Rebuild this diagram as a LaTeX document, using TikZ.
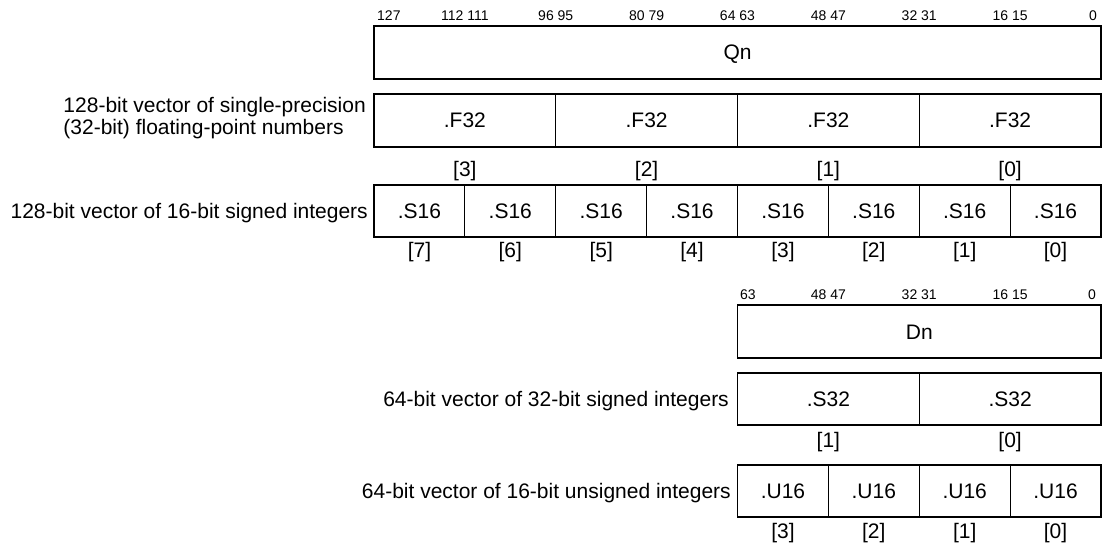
\documentclass[tikz,border=0pt]{standalone}
\usepackage{fontspec}
\setmainfont{Liberation Sans}
\usetikzlibrary{calc}
\begin{document}
\begin{tikzpicture}[x=1pt,y=-1pt,
  cell/.style={draw, line width=1.1pt, minimum height=52pt, inner sep=0pt, outer sep=0pt,
    font=\fontsize{21}{24}\selectfont, text height=15pt, text depth=0pt},
  frame/.style={line width=1.8pt},
  bits/.style={font=\fontsize{14}{16}\selectfont, inner sep=0pt, text height=10pt, text depth=0pt},
  idx/.style={font=\fontsize{21}{24}\selectfont, inner sep=0pt, text height=15pt, text depth=0pt},
  desc/.style={font=\fontsize{21}{24}\selectfont, inner sep=0pt, text height=15pt, text depth=0pt, anchor=east},
]
\useasboundingbox (0,0) rectangle (1103,545);

% ---------- Qn ----------
\node[bits, anchor=west] (b127) at (377,16) {127};
\foreach \t [count=\k] in {112 111, 96 95, 80 79, 64 63, 48 47, 32 31, 16 15}
  \node[bits] (qb\k) at ({374+\k*90.875},16) {\t};
\node[bits, anchor=east] (b0) at (1097,16) {0};
\node[cell, minimum width=727pt, minimum height=53pt] (qn) at (737.5,52.5) {Qn};
\draw[frame] (qn.north west) rectangle (qn.south east);

% ---------- F32 ----------
\node[desc, anchor=north east, align=left, text height=, font=\fontsize{21}{22}\selectfont] (lf) at (366,97)
  {128-bit vector of single-precision\\(32-bit) floating-point numbers};
\foreach \i/\n in {0/3,1/2,2/1,3/0} {
  \node[cell, minimum width=181.75pt, minimum height=53pt] (f\n) at ({464.875+\i*181.75},120.5) {.F32};
  \node[idx] (fi\n) at ($(f\n.south)+(0,22.5)$) {[\n]};
}
\draw[frame] (f3.north west) rectangle (f0.south east);

% ---------- S16 ----------
\node[desc] (ls) at (368,211) {128-bit vector of 16-bit signed integers};
\foreach \i/\n in {0/7,1/6,2/5,3/4,4/3,5/2,6/1,7/0} {
  \node[cell, minimum width=90.875pt] (s\n) at ({419.4375+\i*90.875},211) {.S16};
  \node[idx] (si\n) at ($(s\n.south)+(0,13.5)$) {[\n]};
}
\draw[frame] (s7.north west) rectangle (s0.south east);

% ---------- Dn ----------
\node[bits, anchor=west] (d63) at (740,294.5) {63};
\foreach \t [count=\k] in {48 47, 32 31, 16 15}
  \node[bits] (db\k) at ({737.5+\k*90.875},294.5) {\t};
\node[bits, anchor=east] (d0) at (1096,294.5) {0};
\node[cell, minimum width=363.5pt, minimum height=53pt] (dn) at (919.25,331.5) {Dn};
\draw[frame] (dn.north west) rectangle (dn.south east);

% ---------- S32 ----------
\node[desc] (l32) at (729,399) {64-bit vector of 32-bit signed integers};
\foreach \i/\n in {0/1,1/0} {
  \node[cell, minimum width=181.75pt] (t\n) at ({828.375+\i*181.75},399) {.S32};
  \node[idx] (ti\n) at ($(t\n.south)+(0,15)$) {[\n]};
}
\draw[frame] (t1.north west) rectangle (t0.south east);

% ---------- U16 ----------
\node[desc] (lu) at (731,491) {64-bit vector of 16-bit unsigned integers};
\foreach \i/\n in {0/3,1/2,2/1,3/0} {
  \node[cell, minimum width=90.875pt] (u\n) at ({782.9375+\i*90.875},491) {.U16};
  \node[idx] (ui\n) at ($(u\n.south)+(0,14)$) {[\n]};
}
\draw[frame] (u3.north west) rectangle (u0.south east);
\end{tikzpicture}
\end{document}
